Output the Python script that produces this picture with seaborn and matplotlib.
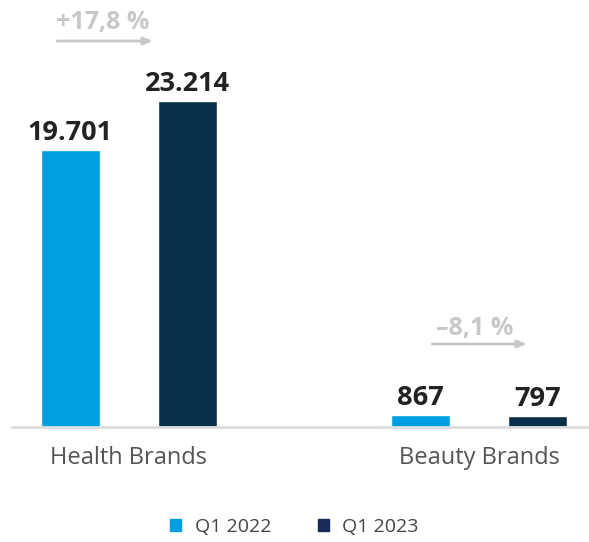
import matplotlib
matplotlib.use("Agg")
import matplotlib.pyplot as plt
import seaborn as sns
import pandas as pd
from matplotlib.patches import Patch

categories = ["Health Brands", "Beauty Brands"]
series = ["Q1 2022", "Q1 2023"]
values_2022 = [19701, 867]
values_2023 = [23214, 797]
value_labels_2022 = ["19.701", "867"]
value_labels_2023 = ["23.214", "797"]
change_labels = ["+17,8 %", "\u20138,1 %"]

light = "#009FDF"
dark = "#08304A"
legend_dark = "#1C2A58"

df = pd.DataFrame({
    "cat": categories * 2,
    "series": [series[0]] * 2 + [series[1]] * 2,
    "val": values_2022 + values_2023,
})

sns.set_theme(style="white")
plt.rcParams["font.family"] = ["Open Sans", "DejaVu Sans"]

W, H = 589, 542
fig = plt.figure(figsize=(W / 100, H / 100), dpi=100)
ax = fig.add_axes([12 / W, (H - 427) / H, (589 - 12) / W, 427 / H])

sns.barplot(data=df, x="cat", y="val", hue="series", order=categories,
            hue_order=series, palette=[light, dark], width=0.67, gap=0.5,
            saturation=1, legend=False, ax=ax)

ymax = 427 / 326 * 23214
ax.set_ylim(0, ymax)
ax.set_xlim((12 - 129) / 350, (589 - 129) / 350)

for cont, labs in zip(ax.containers, [value_labels_2022, value_labels_2023]):
    ax.bar_label(cont, labels=labs, padding=3, fontsize=19.5, fontweight="bold",
                 color="#222222")

# change annotations
def px2y(py):
    return (427 - py) / 326 * 23214

ann = [
    (0, (57 - 129) / 350, (153 - 129) / 350, 41, 23, (55 + 150) / 2 - 129),
    (1, (432 - 479) / 350, (527 - 479) / 350, 344, 328, (435 + 515) / 2 - 479),
]
for (i, x0, x1, ay, ty, tx), lab in zip(ann, change_labels):
    ax.annotate("", xy=(i + x1, px2y(ay)), xytext=(i + x0, px2y(ay)),
                arrowprops=dict(arrowstyle="-|>,head_length=0.45,head_width=0.18",
                                color="#C8C8C8", lw=2, shrinkA=0, shrinkB=0),
                annotation_clip=False)
    ax.text(i + tx / 350, px2y(ty), lab, ha="center", va="center",
            fontsize=18, fontweight="bold", color="#C8C8C8", clip_on=False)

for s in ["left", "right", "top"]:
    ax.spines[s].set_visible(False)
ax.spines["bottom"].set_color("#DDDDDD")
ax.spines["bottom"].set_linewidth(2)
ax.set_yticks([])
ax.set_xlabel("")
ax.set_ylabel("")
ax.tick_params(axis="x", length=0, pad=14, labelsize=17, labelcolor="#555555")

handles = [Patch(color=light, label=series[0]), Patch(color=legend_dark, label=series[1])]
fig.legend(handles=handles, loc="center", bbox_to_anchor=(0.5, (H - 527) / H),
           ncol=2, frameon=False, fontsize=14, labelcolor="#444444",
           handlelength=0.55, handleheight=0.55, handletextpad=0.7, columnspacing=2.4)

fig.savefig("out.png", dpi=100)
